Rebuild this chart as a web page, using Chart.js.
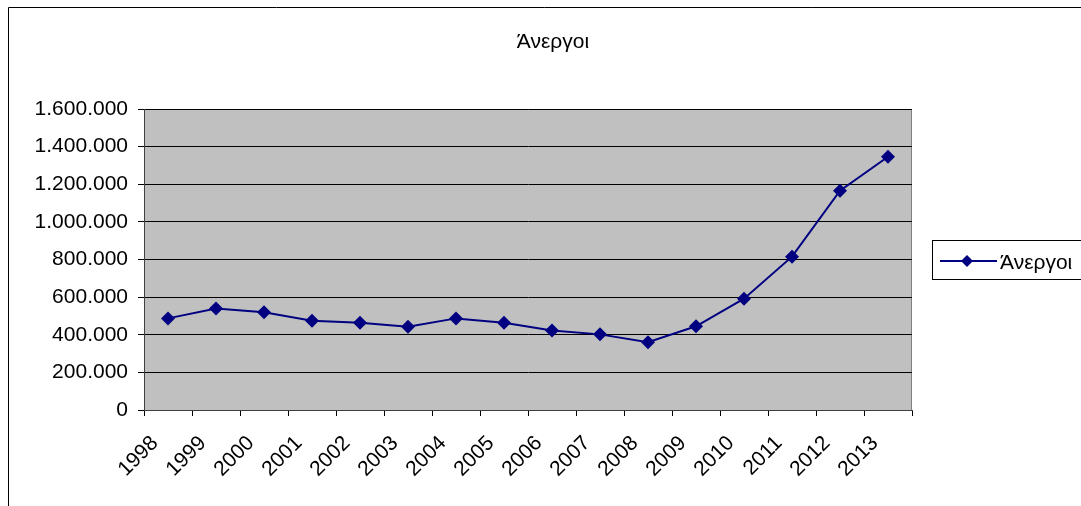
<!DOCTYPE html>
<html>
<head>
<meta charset="utf-8">
<script src="https://cdn.jsdelivr.net/npm/chart.js@4/dist/chart.umd.min.js"></script>
<style>
  html, body { margin: 0; padding: 0; background: #fff; }
  #wrap { width: 1081px; height: 506px; }
</style>
</head>
<body>
<div id="wrap"><canvas id="anergoiChart" width="1081" height="506"></canvas></div>
<script>
// data
const years = ['1998', '1999', '2000', '2001', '2002', '2003', '2004', '2005',
    '2006', '2007', '2008', '2009', '2010', '2011', '2012', '2013'];
const anergoi = [487000, 540000, 519000, 475000, 464000, 443000, 487000, 464000,
    422000, 402000, 360000, 445000, 592000, 815000, 1166000, 1346000];
const seriesLabel = 'Άνεργοι';
const chartTitle = 'Άνεργοι';

const FONT = '"Liberation Sans", Arial, sans-serif';
const FSIZE = 21;

// 1600000 -> 1.600.000
function dots(v) {
    return String(v).replace(/\B(?=(\d{3})+(?!\d))/g, '.');
}

// grey plot area, outer frame, title and legend (Excel look)
const excelLook = {
    id: 'excelLook',
    beforeDraw(chart) {
        const ctx = chart.ctx;
        const a = chart.chartArea;
        ctx.save();
        ctx.fillStyle = '#fff';
        ctx.fillRect(0, 0, chart.width, chart.height);
        ctx.fillStyle = '#c0c0c0';
        ctx.fillRect(a.left, a.top, a.right - a.left, a.bottom - a.top);
        ctx.strokeStyle = '#808080';
        ctx.lineWidth = 1;
        ctx.beginPath();
        ctx.moveTo(a.left, a.top + 0.5);
        ctx.lineTo(a.right - 0.5, a.top + 0.5);
        ctx.lineTo(a.right - 0.5, a.bottom);
        ctx.stroke();
        // chart frame
        ctx.strokeStyle = '#000';
        ctx.beginPath();
        ctx.moveTo(8.5, chart.height);
        ctx.lineTo(8.5, 7.5);
        ctx.lineTo(chart.width, 7.5);
        ctx.stroke();
        ctx.restore();
    },
    afterDraw(chart) {
        const ctx = chart.ctx;
        const ds = chart.data.datasets[0];
        ctx.save();
        // title
        ctx.fillStyle = '#000';
        ctx.font = FSIZE + 'px ' + FONT;
        ctx.textAlign = 'center';
        ctx.textBaseline = 'alphabetic';
        ctx.fillText(chartTitle, 553, 48);
        // legend
        ctx.strokeStyle = '#000';
        ctx.lineWidth = 1;
        ctx.strokeRect(932.5, 240.5, 160, 39);
        ctx.strokeStyle = ds.borderColor;
        ctx.lineWidth = 2;
        ctx.beginPath();
        ctx.moveTo(940, 261);
        ctx.lineTo(997, 261);
        ctx.stroke();
        ctx.fillStyle = ds.borderColor;
        ctx.beginPath();
        ctx.moveTo(967, 255);
        ctx.lineTo(973, 261);
        ctx.lineTo(967, 267);
        ctx.lineTo(961, 261);
        ctx.closePath();
        ctx.fill();
        ctx.fillStyle = '#000';
        ctx.textAlign = 'left';
        ctx.fillText(ds.label, 1000, 269);
        ctx.restore();
    }
};

const ctx = document.getElementById('anergoiChart').getContext('2d');

const chart = new Chart(ctx, {
    type: 'line',
    data: {
        labels: years,
        datasets: [{
            label: seriesLabel,
            data: anergoi,
            borderColor: '#000080',
            backgroundColor: '#000080',
            borderWidth: 2,
            pointStyle: 'rectRot',
            pointRadius: 7,
            pointHoverRadius: 7,
            pointBorderWidth: 0,
            tension: 0
        }]
    },
    options: {
        responsive: false,
        animation: false,
        layout: {
            padding: { top: 109, right: 169, left: 0, bottom: 0 }
        },
        plugins: {
            legend: { display: false },
            title: { display: false },
            tooltip: { enabled: false }
        },
        scales: {
            x: {
                offset: true,
                afterFit: s => { s.height = 96; },
                grid: {
                    offset: true,
                    drawOnChartArea: false,
                    drawTicks: true,
                    tickLength: 6,
                    color: '#000'
                },
                border: { color: '#404040', width: 1 },
                ticks: {
                    autoSkip: false,
                    minRotation: 45,
                    maxRotation: 45,
                    padding: 15,
                    labelOffset: -13,
                    color: '#000',
                    font: { family: FONT, size: FSIZE }
                }
            },
            y: {
                min: 0,
                max: 1600000,
                afterFit: s => { s.width = 144; },
                grid: {
                    color: '#000',
                    lineWidth: 1,
                    tickLength: 6
                },
                border: { color: '#404040', width: 1 },
                ticks: {
                    stepSize: 200000,
                    padding: 10,
                    color: '#000',
                    font: { family: FONT, size: FSIZE },
                    callback: v => dots(v)
                }
            }
        }
    },
    plugins: [excelLook]
});
</script>
</body>
</html>
